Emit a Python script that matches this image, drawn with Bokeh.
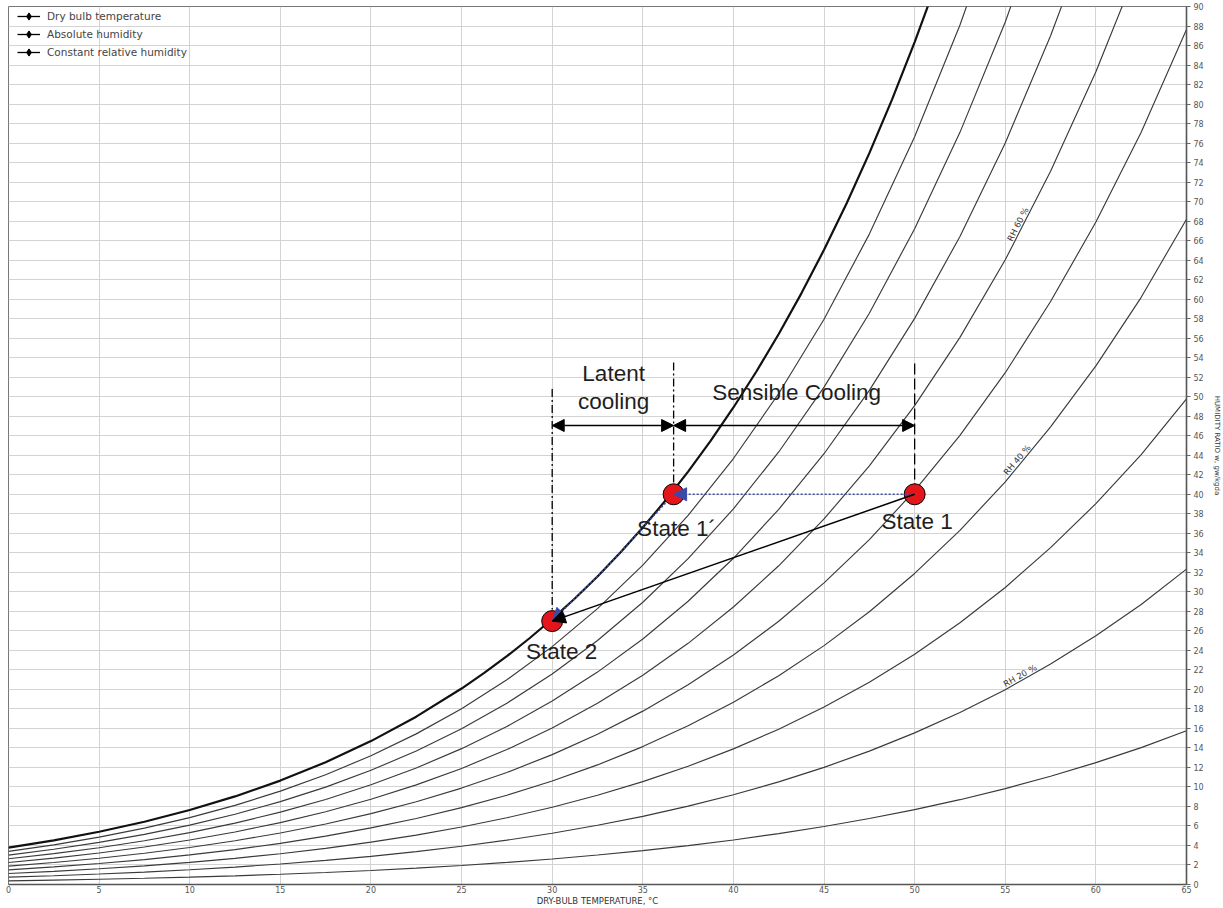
from bokeh.plotting import figure
from bokeh.models import Range1d, FixedTicker, Arrow, NormalHead, Legend, LegendItem
from bokeh.core.properties import value
from bokeh.embed import file_html
from bokeh.resources import INLINE

# Dry-bulb temperature grid, °C
temps = [0, 2.5, 5, 7.5, 10, 12.5, 15, 17.5, 20, 22.5, 25, 27.5, 30, 32.5,
         35, 37.5, 40, 42.5, 45, 47.5, 50, 52.5, 55, 57.5, 60, 62.5, 65]

# Humidity ratio (g water / kg dry air) along each constant relative-humidity line
w_rh10 = [0.375, 0.449, 0.536, 0.637, 0.755, 0.891, 1.049, 1.231, 1.439, 1.679, 1.952,
          2.264, 2.618, 3.020, 3.475, 3.988, 4.567, 5.217, 5.946, 6.763, 7.676, 8.694,
          9.829, 11.098, 12.490, 14.029, 15.754]
w_rh20 = [0.751, 0.900, 1.073, 1.276, 1.512, 1.785, 2.101, 2.466, 2.885, 3.366, 3.916,
          4.544, 5.258, 6.069, 6.989, 8.028, 9.201, 10.521, 12.008, 13.675, 15.544,
          17.635, 19.974, 22.599, 25.492, 28.705, 32.327]
w_rh30 = [1.128, 1.350, 1.611, 1.916, 2.270, 2.681, 3.157, 3.706, 4.338, 5.063, 5.893,
          6.841, 7.921, 9.148, 10.542, 12.119, 13.904, 15.917, 18.187, 20.741, 23.611,
          26.833, 30.450, 34.526, 39.038, 44.074, 49.785]
w_rh40 = [1.505, 1.802, 2.150, 2.557, 3.031, 3.580, 4.217, 4.952, 5.798, 6.769, 7.882,
          9.154, 10.606, 12.258, 14.136, 16.265, 18.678, 21.405, 24.488, 27.965, 31.885,
          36.299, 41.274, 46.903, 53.162, 60.188, 68.199]
w_rh50 = [1.882, 2.254, 2.690, 3.199, 3.793, 4.482, 5.280, 6.202, 7.264, 8.484, 9.884,
          11.485, 13.314, 15.398, 17.771, 20.465, 23.524, 26.989, 30.914, 35.354, 40.373,
          46.046, 52.462, 59.755, 67.904, 77.099, 87.652]
w_rh60 = [2.259, 2.706, 3.231, 3.843, 4.557, 5.386, 6.347, 7.457, 8.737, 10.209, 11.899,
          13.833, 16.046, 18.570, 21.448, 24.721, 28.444, 32.670, 37.469, 42.913, 49.085,
          56.086, 64.036, 73.111, 83.304, 94.870]
w_rh70 = [2.637, 3.160, 3.772, 4.488, 5.323, 6.292, 7.417, 8.717, 10.217, 11.943, 13.926,
          16.199, 18.801, 21.773, 25.167, 29.033, 33.439, 38.451, 44.157, 50.647, 58.029,
          66.433, 76.013, 87.000, 99.410]
w_rh80 = [3.016, 3.614, 4.315, 5.135, 6.091, 7.202, 8.492, 9.982, 11.704, 13.687, 15.967,
          18.582, 21.580, 25.008, 28.929, 33.403, 38.512, 44.336, 50.983, 58.563, 67.216,
          77.099, 88.414, 101.460]
w_rh90 = [3.395, 4.068, 4.859, 5.782, 6.860, 8.114, 9.569, 11.253, 13.198, 15.440, 18.021,
          20.984, 24.384, 28.277, 32.736, 37.833, 43.664, 50.326, 57.949, 66.668, 76.653,
          88.100, 101.270]

# Saturation line (RH 100 %) on a finer temperature grid
sat_t = [0, 2.5, 5, 7.5, 10, 12.5, 15, 17.5, 20, 22.5, 25, 26.25, 27.5, 28.75, 30, 31.25,
         32.5, 33.75, 35, 36.25, 37.5, 38.75, 40, 41.25, 42.5, 43.75, 45, 46.25, 47.5,
         48.75, 50, 51.25]
w_sat = [3.775, 4.524, 5.403, 6.432, 7.632, 9.028, 10.651, 12.528, 14.699, 17.203, 20.087,
         21.687, 23.403, 25.241, 27.212, 29.320, 31.578, 33.997, 36.587, 39.357, 42.323,
         45.498, 48.897, 52.532, 56.425, 60.595, 65.061, 69.840, 74.969, 80.458, 86.352,
         92.665]

rh_levels = [10, 20, 30, 40, 50, 60, 70, 80, 90]
rh_curves = [w_rh10, w_rh20, w_rh30, w_rh40, w_rh50, w_rh60, w_rh70, w_rh80, w_rh90]

# Labelled RH lines
rh_label_text = ["RH 60 %", "RH 40 %", "RH 20 %"]
rh_label_t = [55.94, 55.86, 55.95]
rh_label_w = [67.45, 43.20, 20.97]
rh_label_angle = [63, 50, 29.5]

x_ticks = list(range(0, 66, 5))
y_ticks = list(range(0, 91, 2))

# Process states
state_names = ["State 1", "State 1´", "State 2"]
state_t = [50.0, 36.7, 30.0]
state_w = [40.0, 40.0, 27.0]

# Cooling path from State 1' down the saturation line to State 2
sat_path_t = [36.7, 35.0, 33.75, 32.5, 31.25, 30.0]
sat_path_w = [40.0, 36.59, 34.0, 31.58, 29.32, 27.0]

legend_labels = ["Dry bulb temperature", "Absolute humidity", "Constant relative humidity"]

FONT = "DejaVu Sans"
ARIAL = "Liberation Sans"
BLUE = "#3a4aa8"
RED = "#e5161b"

p = figure(width=1223, height=908, output_backend="svg", toolbar_location=None,
           x_range=Range1d(0, 65), y_range=Range1d(0, 90),
           y_axis_location="right",
           min_border_left=8, min_border_top=6, min_border_right=37, min_border_bottom=24)

p.outline_line_color = "#777777"
p.outline_line_width = 1

# axes
p.xaxis.ticker = FixedTicker(ticks=x_ticks)
p.yaxis.ticker = FixedTicker(ticks=y_ticks)
p.xgrid.ticker = FixedTicker(ticks=x_ticks)
p.ygrid.ticker = FixedTicker(ticks=y_ticks)
for g in (p.xgrid, p.ygrid):
    g.grid_line_color = "#d3d3d3"
    g.grid_line_width = 1

for ax in (p.xaxis, p.yaxis):
    ax.axis_line_color = "#555555"
    ax.axis_line_width = 1.6
    ax.major_tick_line_color = "#666666"
    ax.major_tick_in = 0
    ax.minor_tick_line_color = None
    ax.major_label_text_font = FONT
    ax.major_label_text_font_size = "8px"
    ax.major_label_text_color = "#555555"
    ax.major_label_text_line_height = 1.0
    ax.axis_label_text_font = FONT
    ax.axis_label_text_font_style = "normal"
    ax.axis_label_text_color = "#333333"
    ax.axis_label_text_line_height = 1.0

p.xaxis.major_tick_out = 0
p.xaxis.major_label_standoff = 1
p.xaxis.axis_label = "DRY-BULB TEMPERATURE, °C"
p.xaxis.axis_label_text_font_size = "8.5px"
p.xaxis.axis_label_standoff = 0

p.yaxis.major_tick_out = 4
p.yaxis.major_label_standoff = 3
p.yaxis.axis_label = "HUMIDITY RATIO w, gw/kgda"
p.yaxis.axis_label_text_font_size = "7px"
p.yaxis.axis_label_standoff = 6

# constant relative-humidity lines, saturation line drawn heavier
for rh, w in zip(rh_levels, rh_curves):
    p.line(temps[:len(w)], w, line_color="#3a3a3a", line_width=1.15)
p.line(sat_t, w_sat, line_color="#111111", line_width=2.2)

p.text(x=rh_label_t, y=rh_label_w, text=rh_label_text, angle=rh_label_angle,
       angle_units="deg", text_font=value(FONT), text_font_size="8.5px",
       text_color="#333333", text_align="center", text_baseline="bottom")

# guide lines marking the state temperatures
p.line([30.0, 30.0], [50.8, 28.2], line_color="black", line_width=1.3, line_dash="8 3 2 3")
p.line([36.7, 36.7], [53.5, 41.0], line_color="black", line_width=1.3, line_dash="8 3 2 3")
p.line([50.0, 50.0], [53.4, 41.0], line_color="black", line_width=1.3, line_dash="11 4")

# latent / sensible extent arrows
for xs, xe in ((30.0, 36.7), (36.7, 50.0)):
    p.add_layout(Arrow(x_start=xs, y_start=47.05, x_end=xe, y_end=47.05,
                       line_color="black", line_width=1.6,
                       start=NormalHead(size=12, fill_color="black", line_color="black"),
                       end=NormalHead(size=12, fill_color="black", line_color="black")))

# sensible cooling path (dotted) and actual process line
p.line(sat_path_t, sat_path_w, line_color=BLUE, line_width=1.6, line_dash="2 2")

p.scatter(state_t, state_w, size=21, fill_color=RED, line_color="black", line_width=1)

p.add_layout(Arrow(x_start=state_t[0], y_start=state_w[0], x_end=state_t[1], y_end=state_w[1],
                   line_color=BLUE, line_width=1.6, line_dash="2 2",
                   end=NormalHead(size=13, fill_color=BLUE, line_color=BLUE)))
p.add_layout(Arrow(x_start=sat_path_t[3], y_start=sat_path_w[3], x_end=sat_path_t[5],
                   y_end=sat_path_w[5], line_alpha=0,
                   end=NormalHead(size=13, fill_color=BLUE, line_color=BLUE)))
p.add_layout(Arrow(x_start=state_t[0], y_start=state_w[0], x_end=state_t[2], y_end=state_w[2],
                   line_color="black", line_width=1.5,
                   end=NormalHead(size=13, fill_color="black", line_color="black")))

# annotations
p.text(x=[50.14, 36.86, 30.52], y=[37.24, 36.53, 23.92], text=state_names,
       text_font=value(ARIAL), text_font_size="22.5px", text_color="#1e1e1e",
       text_align="center", text_baseline="alphabetic")
p.text(x=[33.39, 33.39, 43.49], y=[52.41, 49.54, 50.46],
       text=["Latent", "cooling", "Sensible Cooling"],
       text_font=value(ARIAL), text_font_size="22.5px", text_color="#1e1e1e",
       text_align="center", text_baseline="alphabetic")

# legend (glyph-only renderers placed outside the visible range)
items = []
for name in legend_labels:
    ln = p.line(x=[-10, -9], y=[-10, -10], line_color="black", line_width=1.3)
    mk = p.scatter(x=[-10], y=[-10], marker="diamond", size=8, fill_color="black",
                   line_color="black")
    items.append(LegendItem(label=name, renderers=[ln, mk]))
legend = Legend(items=items, location=(9, 823), margin=0, padding=0, spacing=0,
                glyph_width=23, glyph_height=18, label_height=18, label_standoff=7,
                label_text_font=FONT, label_text_font_size="10.5px", label_text_color="#444444",
                background_fill_alpha=0, border_line_alpha=0)
p.add_layout(legend)

open("out.html", "w").write(file_html(p, INLINE))
